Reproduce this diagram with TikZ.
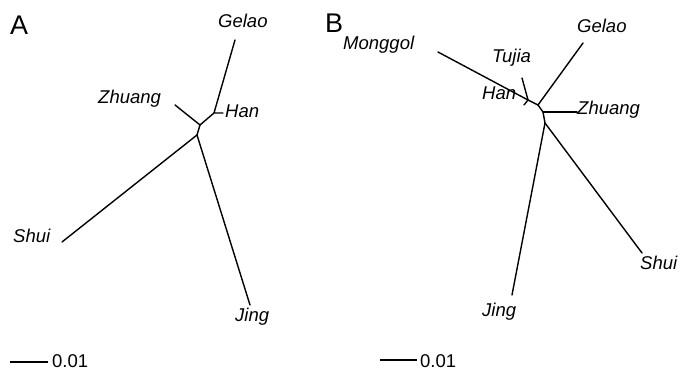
\documentclass[tikz,border=0pt]{standalone}
\usepackage{fontspec}
\setmainfont{Liberation Sans}
\begin{document}
\begin{tikzpicture}[x=1pt,y=-1pt,
  branch/.style={line width=1.4pt,line cap=round,line join=round},
  taxon/.style={inner sep=0pt,anchor=base west,font=\fontsize{18.5}{18.5}\selectfont\itshape},
  panel/.style={inner sep=0pt,anchor=base west,font=\fontsize{27}{27}\selectfont},
  scalelabel/.style={inner sep=0pt,anchor=base west,font=\fontsize{18.5}{18.5}\selectfont}]
\useasboundingbox (0,0) rectangle (681,371);

% ---------- Tree A ----------
\node[panel] (labA) at (10,35) {A};
\coordinate (a1) at (214,113);
\coordinate (a2) at (200,125);
\coordinate (a3) at (197,135);
\coordinate (aGelao) at (235,40);
\coordinate (aHan) at (223,113);
\coordinate (aZhuang) at (175,105);
\coordinate (aShui) at (62,242);
\coordinate (aJing) at (250,305);
\draw[branch] (aGelao) -- (a1) -- (aHan);
\draw[branch] (a1) -- (a2) -- (a3);
\draw[branch] (a2) -- (aZhuang);
\draw[branch] (a3) -- (aShui);
\draw[branch] (a3) -- (aJing);
\node[taxon] (tAGelao) at (218,28) {Gelao};
\node[taxon] (tAZhuang) at (98,104) {Zhuang};
\node[taxon] (tAHan) at (225,118) {Han};
\node[taxon] (tAShui) at (13,243) {Shui};
\node[taxon] (tAJing) at (235,322) {Jing};

% scale bar A
\coordinate (sa0) at (10,362);
\coordinate (sa1) at (48,362);
\draw[branch,line cap=butt] (sa0) -- (sa1);
\node[scalelabel] (saLab) at (52,368) {0.01};

% ---------- Tree B ----------
\node[panel] (labB) at (325,33) {B};
\coordinate (b1) at (528,100);
\coordinate (b2) at (538,105);
\coordinate (b3) at (543,112);
\coordinate (b4) at (545,123);
\coordinate (bMonggol) at (438,52);
\coordinate (bHan) at (524,105);
\coordinate (bTujia) at (522,78);
\coordinate (bGelao) at (583,43);
\coordinate (bZhuang) at (577,112);
\coordinate (bJing) at (512,295);
\coordinate (bShui) at (642,253);
\draw[branch] (bMonggol) -- (b1) -- (b2) -- (b3) -- (b4);
\draw[branch] (b1) -- (bHan);
\draw[branch] (b1) -- (bTujia);
\draw[branch] (b2) -- (bGelao);
\draw[branch] (b3) -- (bZhuang);
\draw[branch] (b4) -- (bJing);
\draw[branch] (b4) -- (bShui);
\node[taxon] (tBMonggol) at (343,50) {Monggol};
\node[taxon] (tBTujia) at (492,63) {Tujia};
\node[taxon] (tBHan) at (482,100) {Han};
\node[taxon] (tBGelao) at (577,33) {Gelao};
\node[taxon] (tBZhuang) at (577,115) {Zhuang};
\node[taxon] (tBShui) at (640,270) {Shui};
\node[taxon] (tBJing) at (482,317) {Jing};

% scale bar B
\coordinate (sb0) at (380,360);
\coordinate (sb1) at (417,360);
\draw[branch,line cap=butt] (sb0) -- (sb1);
\node[scalelabel] (sbLab) at (420,368) {0.01};
\end{tikzpicture}
\end{document}
